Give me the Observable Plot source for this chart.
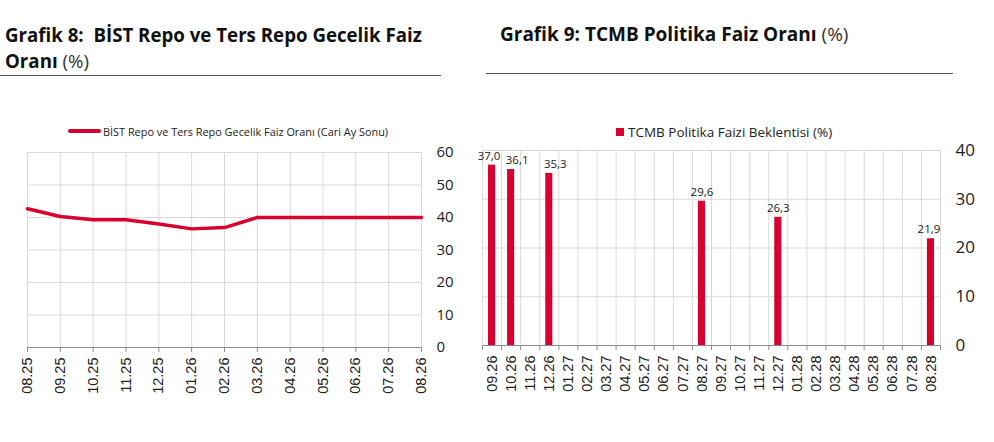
<!DOCTYPE html>
<html>
<head>
<meta charset="utf-8">
<script src="https://cdn.jsdelivr.net/npm/d3@7"></script>
<script src="https://cdn.jsdelivr.net/npm/@observablehq/plot@0.6"></script>
<style>
  html, body { margin: 0; padding: 0; background: #fff; }
  #wrap { position: relative; width: 994px; height: 442px; overflow: hidden; background: #fff; font-family: "Open Sans", "Noto Sans", sans-serif; color: #111; }
  .title { position: absolute; font-weight: 700; font-size: 18.7px; line-height: 22px; color: #111; white-space: nowrap; }
  .title span { font-weight: 400; color: #333; }
  .uline { position: absolute; height: 0; border-top: 1.5px solid #555; }
  .legend { position: absolute; display: flex; align-items: center; color: #222; white-space: nowrap; }
  .chart { position: absolute; }
</style>
</head>
<body>
<div id="wrap">
  <div class="title" style="left:5px; top:24px;">Grafik 8:&nbsp; BİST Repo ve Ters Repo Gecelik Faiz</div>
  <div class="title" style="left:5px; top:50px;">Oranı <span>(%)</span></div>
  <div class="uline" style="left:0px; top:75px; width:441px;"></div>
  <div class="title" style="left:500px; top:23px; font-size:19px;">Grafik 9: TCMB Politika Faiz Oranı <span>(%)</span></div>
  <div class="uline" style="left:486px; top:73px; width:467px;"></div>

  <div class="legend" style="left:68px; top:122px; font-size:10.9px; height:18px;">
    <div style="width:33px; height:4px; background:#d7002f; border-radius:2px; margin-right:2px;"></div>
    <div id="leg8"></div>
  </div>
  <div class="legend" style="left:616px; top:122px; font-size:13.5px; height:19px;">
    <div style="width:8px; height:8px; background:#d7002f; margin-right:4px;"></div>
    <div id="leg9"></div>
  </div>

  <div class="chart" id="c8" style="left:0px; top:140px;"></div>
  <div class="chart" id="c9" style="left:470px; top:140px;"></div>
</div>
<script>
// ---- Data: Grafik 8 ----
const months8 = ["08.25","09.25","10.25","11.25","12.25","01.26","02.26","03.26","04.26","05.26","06.26","07.26","08.26"];
const rate8 = [42.7, 40.3, 39.3, 39.3, 38.0, 36.5, 36.9, 40.0, 40.0, 40.0, 40.0, 40.0, 40.0];
const yTicks8 = [0, 10, 20, 30, 40, 50, 60];
const legend8 = "BİST Repo ve Ters Repo Gecelik Faiz Oranı (Cari Ay Sonu)";

// ---- Data: Grafik 9 ----
const months9 = ["09.26","10.26","11.26","12.26","01.27","02.27","03.27","04.27","05.27","06.27","07.27","08.27",
                 "09.27","10.27","11.27","12.27","01.28","02.28","03.28","04.28","05.28","06.28","07.28","08.28"];
const expMonths9 = ["09.26","10.26","12.26","08.27","12.27","08.28"];
const expValues9 = [37.0, 36.1, 35.3, 29.6, 26.3, 21.9];
const yTicks9 = [0, 10, 20, 30, 40];
const legend9 = "TCMB Politika Faizi Beklentisi (%)";

const RED = "#d7002f";
const GRID = "#d9d9d9";
const AXIS = "#8c8c8c";

document.getElementById("leg8").textContent = legend8;
document.getElementById("leg9").textContent = legend9;

// ---- Chart 8 ----
const data8 = months8.map((m, i) => ({m, v: rate8[i]}));
const chart8 = Plot.plot({
  width: 470, height: 302,
  marginTop: 12, marginBottom: 95, marginLeft: 27, marginRight: 49,
  x: {type: "point", domain: months8, padding: 0, round: false},
  y: {domain: [0, 60]},
  style: {fontFamily: "'Liberation Sans', Arial, sans-serif", fontSize: "14px", color: "#222", background: "transparent", overflow: "visible"},
  marks: [
    Plot.gridY(yTicks8.filter(d => d > 0), {stroke: GRID, strokeOpacity: 1}),
    Plot.gridX(months8, {stroke: GRID, strokeOpacity: 1}),
    Plot.ruleY([0], {stroke: AXIS, strokeWidth: 1.2}),
    Plot.axisX({tickRotate: -90, tickSize: 5, tickPadding: 5, stroke: AXIS, fill: "#222", fontSize: 14.5, label: null}),
    Plot.axisY(yTicks8, {anchor: "right", tickSize: 0, tickPadding: 15, fill: "#222", fontSize: 15, fontFamily: "'Open Sans', sans-serif", label: null}),
    Plot.lineY(data8, {x: "m", y: "v", stroke: RED, strokeWidth: 3.5, strokeLinejoin: "round"})
  ]
});
document.getElementById("c8").append(chart8);

// ---- Chart 9 ----
const idx = m => months9.indexOf(m);
const data9 = expMonths9.map((m, i) => ({m, v: expValues9[i], c: idx(m) + 0.5}));
const bounds9 = months9.map((m, i) => i).concat([months9.length]);
const centers9 = months9.map((m, i) => i + 0.5);
const halfBar = 0.185;
const fmt = v => v.toFixed(1).replace(".", ",");
// small label nudges so neighbouring labels do not collide (as in the original)
const labelNudge = {"09.26": -3, "10.26": 6, "12.26": 6, "08.28": -2};

const chart9 = Plot.plot({
  width: 524, height: 302,
  marginTop: 10, marginBottom: 97, marginLeft: 12, marginRight: 54,
  x: {type: "linear", domain: [0, months9.length]},
  y: {domain: [0, 40]},
  style: {fontFamily: "'Liberation Sans', Arial, sans-serif", fontSize: "14px", color: "#222", background: "transparent", overflow: "visible"},
  marks: [
    Plot.gridY(yTicks9.filter(d => d > 0), {stroke: GRID, strokeOpacity: 1}),
    Plot.ruleX(bounds9, {stroke: GRID, strokeOpacity: 1}),
    Plot.ruleY([0], {stroke: AXIS, strokeWidth: 1.2}),
    Plot.axisX(bounds9, {tickSize: 5, tickFormat: () => "", stroke: AXIS, label: null}),
    Plot.axisX(centers9, {tickSize: 0, tickPadding: 10, tickRotate: -90, tickFormat: d => months9[Math.floor(d)], fill: "#222", fontSize: 14.5, label: null}),
    Plot.axisY(yTicks9, {anchor: "right", tickSize: 0, tickPadding: 15, fill: "#222", fontSize: 17, fontFamily: "'Open Sans', sans-serif", label: null}),
    Plot.rectY(data9, {x1: d => d.c - halfBar, x2: d => d.c + halfBar, y: "v", fill: RED}),
    ...data9.map(d => Plot.text([d], {x: "c", y: "v", text: e => fmt(e.v), dy: -9, dx: labelNudge[d.m] || 0, fontSize: 11.5, fill: "#222", fontFamily: "'Open Sans', sans-serif"}))
  ]
});
document.getElementById("c9").append(chart9);
</script>
</body>
</html>
